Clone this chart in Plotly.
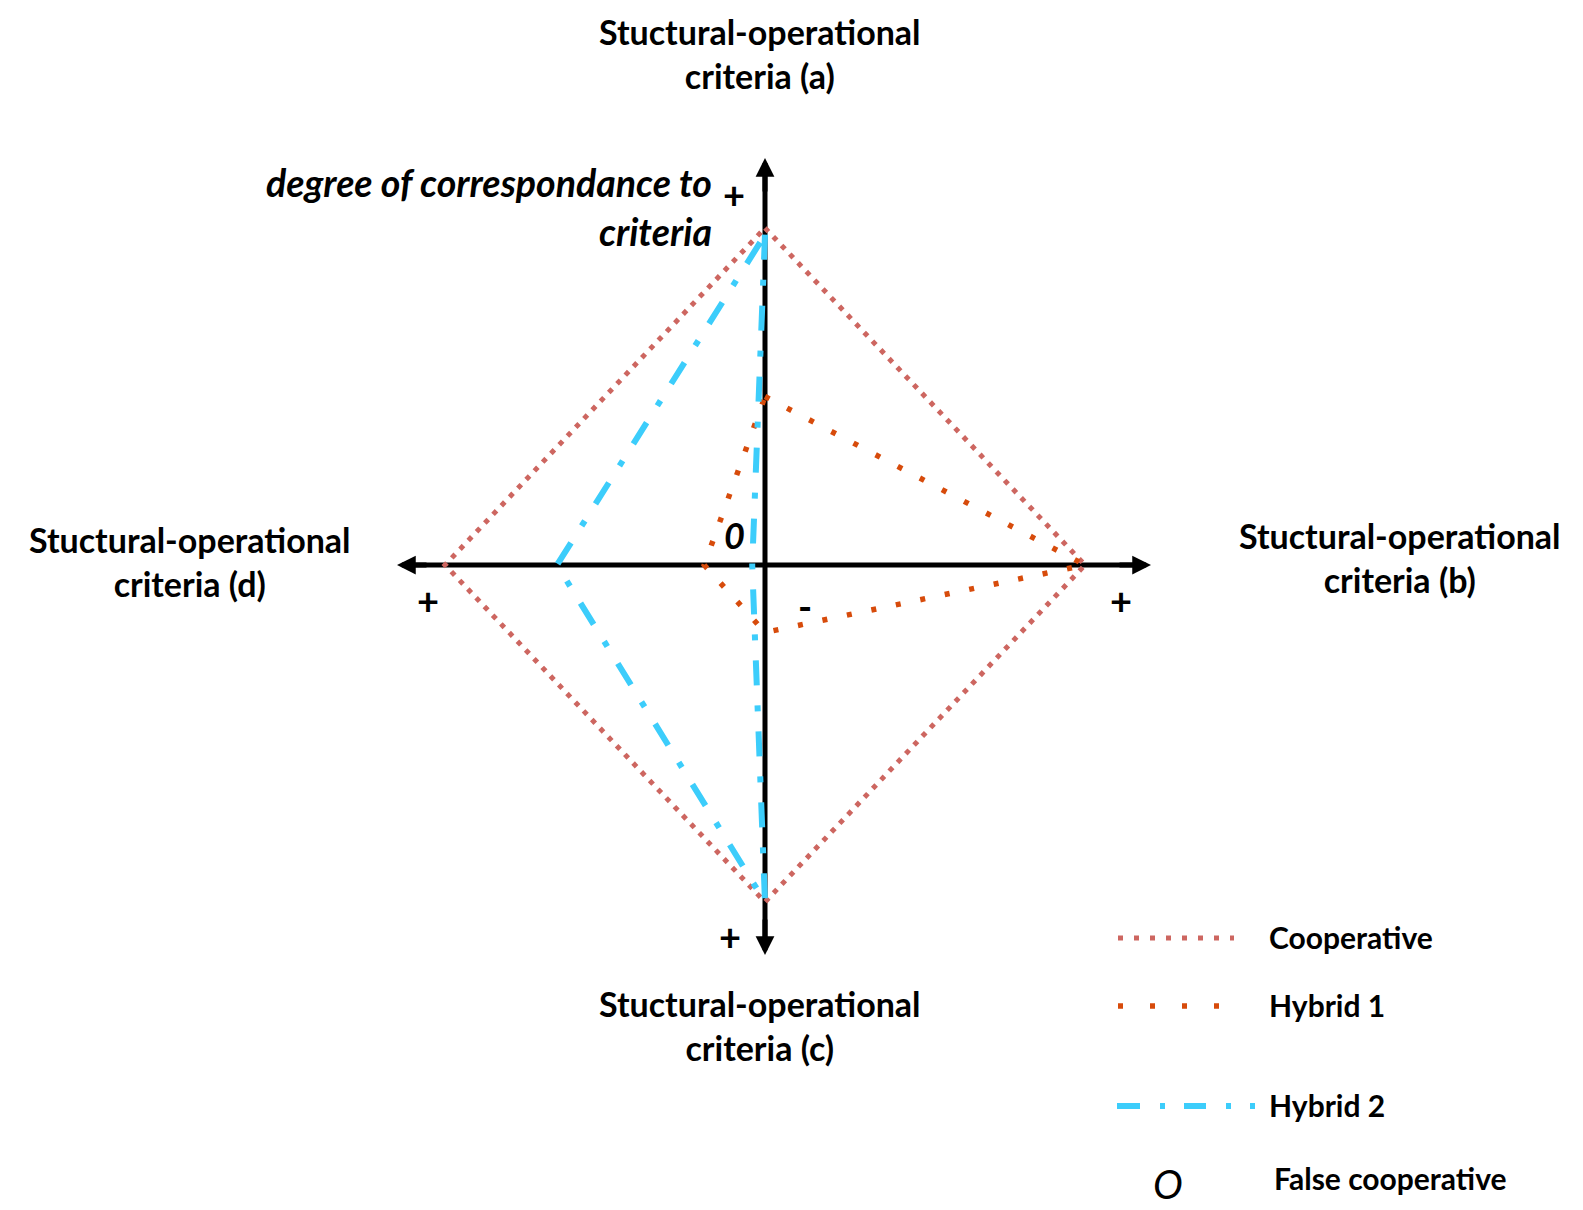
import plotly.graph_objects as go

# ---- data ----
criteria = ["a", "b", "c", "d"]          # a = up, b = right, c = down, d = left
series_names = ["Cooperative", "Hybrid 1", "Hybrid 2"]
cooperative = [1.00, 1.00, 1.00, 1.00]
hybrid1 = [0.50, 1.00, 0.20, 0.19]
hybrid2 = [0.98, -0.04, 1.00, 0.65]

colors = {"Cooperative": "#CD6660", "Hybrid 1": "#D74B0B", "Hybrid 2": "#3CCDFB"}
dashes = {"Cooperative": "5px,7px", "Hybrid 1": "5px,20px", "Hybrid 2": "25px,20px,6px,20px"}
widths = {"Cooperative": 5, "Hybrid 1": 5.5, "Hybrid 2": 6}
legend_dashes = {"Cooperative": "5px,11px", "Hybrid 1": "5px,27px",
                 "Hybrid 2": "23px,20px,5px,19px,22px,20px,5px,19px,5px,100px"}

W, H = 1583, 1210
OX, OY = 757, 557      # pixel of origin
SX, SY = 320, 337      # pixels per unit

def px2x(px):
    return (px - OX) / SX

def py2y(py):
    return (OY - py) / SY

def to_xy(vals):
    a, b, c, d = vals
    xs = [0, b, 0, -d, 0]
    ys = [a, 0, -c, 0, a]
    return xs, ys

fig = go.Figure()
for name, vals in zip(series_names, [cooperative, hybrid1, hybrid2]):
    xs, ys = to_xy(vals)
    fig.add_trace(go.Scatter(x=xs, y=ys, mode="lines", name=name, showlegend=False,
                             line=dict(color=colors[name], width=widths[name], dash=dashes[name]),
                             hoverinfo="skip"))

shapes = []
# axes lines (below data)
shapes.append(dict(type="line", xref="x", yref="y", x0=px2x(395), x1=px2x(1135), y0=0, y1=0,
                   line=dict(color="black", width=5), layer="below"))
shapes.append(dict(type="line", xref="x", yref="y", x0=0, x1=0, y0=py2y(158), y1=py2y(940),
                   line=dict(color="black", width=5), layer="below"))

annotations = []
# arrowheads
tips = [(px2x(389), 0, px2x(420), 0), (px2x(1143), 0, px2x(1110), 0),
        (0, py2y(150), 0, py2y(185)), (0, py2y(947), 0, py2y(910))]
for x, y, ax, ay in tips:
    annotations.append(dict(x=x, y=y, ax=ax, ay=ay, xref="x", yref="y", axref="x", ayref="y",
                            text="", showarrow=True, arrowhead=2, arrowwidth=5, arrowsize=0.75,
                            arrowcolor="black", standoff=0))

FONT = "Lato"
lab_font = dict(family=FONT, size=34, color="black")
def P(px, py):
    return px / W, 1 - py / H

label_pos = {"a": (752, 46), "b": (1392, 549), "c": (752, 1017), "d": (182, 553)}
for k in criteria:
    xp, yp = P(*label_pos[k])
    annotations.append(dict(x=xp, y=yp, xref="paper", yref="paper", xanchor="center", yanchor="middle",
                            text=f"<b>Stuctural-operational<br>criteria ({k})</b>", showarrow=False,
                            font=lab_font, align="center"))

xp, yp = P(706, 199)
annotations.append(dict(x=xp, y=yp, xref="paper", yref="paper", xanchor="right", yanchor="middle",
                        text="<b><i>degree of correspondance to<br>criteria</i></b>", showarrow=False,
                        font=dict(family=FONT, size=37.5, color="black"), align="right"))

marks = [("+", 726, 186), ("+", 420, 592), ("+", 1113, 592), ("+", 722, 928), ("-", 797, 598)]
for t, x, y in marks:
    xp, yp = P(x, y)
    annotations.append(dict(x=xp, y=yp, xref="paper", yref="paper", xanchor="center", yanchor="middle",
                            text=f"<b>{t}</b>", showarrow=False, font=dict(family=FONT, size=38, color="black")))
xp, yp = P(726, 527)
annotations.append(dict(x=xp, y=yp, xref="paper", yref="paper", xanchor="center", yanchor="middle",
                        text="<b><i>0</i></b>", showarrow=False, font=dict(family=FONT, size=36, color="black")))

# legend
leg = [("Cooperative", 1110, 1226, 930), ("Hybrid 1", 1110, 1212, 998), ("Hybrid 2", 1109, 1247, 1098)]
for name, x0, x1, y in leg:
    shapes.append(dict(type="line", xref="paper", yref="paper", x0=x0 / W, x1=x1 / W,
                       y0=1 - y / H, y1=1 - y / H,
                       line=dict(color=colors[name], width=widths[name], dash=legend_dashes[name])))
    xp, yp = P(1259, y - 1)
    annotations.append(dict(x=xp, y=yp, xref="paper", yref="paper", xanchor="left", yanchor="middle",
                            text=f"<b>{name}</b>", showarrow=False, font=dict(family=FONT, size=30, color="black")))
xp, yp = P(1160, 1176)
annotations.append(dict(x=xp, y=yp, xref="paper", yref="paper", xanchor="center", yanchor="middle",
                        text="<i>O</i>", showarrow=False, font=dict(family=FONT, size=40, color="black")))
xp, yp = P(1264, 1170)
annotations.append(dict(x=xp, y=yp, xref="paper", yref="paper", xanchor="left", yanchor="middle",
                        text="<b>False cooperative</b>", showarrow=False, font=dict(family=FONT, size=30, color="black")))

fig.update_layout(
    width=W, height=H, margin=dict(l=0, r=0, t=0, b=0),
    paper_bgcolor="white", plot_bgcolor="white",
    xaxis=dict(range=[px2x(0), px2x(W)], visible=False, fixedrange=True),
    yaxis=dict(range=[py2y(H), py2y(0)], visible=False, fixedrange=True),
    shapes=shapes, annotations=annotations, showlegend=False,
)

fig.write_html("out.html")
